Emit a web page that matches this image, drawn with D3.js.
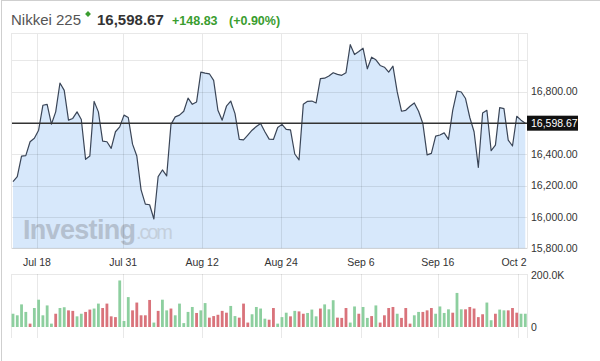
<!DOCTYPE html>
<html>
<head>
<meta charset="utf-8">
<script src="https://cdn.jsdelivr.net/npm/d3@7"></script>
<style>
  body { margin: 0; background: #fff; }
  svg { display: block; font-family: Arial, "Liberation Sans", sans-serif; }
</style>
</head>
<body>
<div class="chart"></div>
<script>
// closing prices, one per bar
const closes = [16226,16258,16389,16392,16480,16502,16554,16713,16719,16592,
  16671,16855,16808,16618,16629,16671,16622,16368,16389,16738,
  16671,16484,16480,16438,16544,16575,16650,16635,16465,16389,
  16173,16082,16078,15987,16258,16300,16262,16591,16639,16650,
  16675,16759,16719,16734,16925,16918,16914,16872,16681,16618,
  16707,16740,16660,16495,16492,16523,16554,16577,16597,16544,
  16497,16495,16571,16591,16559,16556,16402,16364,16719,16738,
  16740,16728,16883,16886,16900,16921,16910,16904,16921,17100,
  17037,17056,17077,16946,17020,17003,16967,16956,16925,16963,
  16798,16675,16681,16707,16728,16675,16597,16396,16406,16516,
  16523,16537,16495,16681,16804,16798,16756,16635,16544,16317,
  16664,16681,16423,16459,16698,16692,16491,16453,16643,16618,
  16598.67];

// volume in thousands
const volumes = [51,45,87,58,13,73,105,45,83,13,51,73,76,64,62,41,51,58,67,71,
  90,73,90,41,38,179,23,115,64,94,45,45,104,17,62,105,64,71,45,90,
  15,58,77,54,64,92,36,42,47,62,55,81,42,36,90,17,49,77,71,32,
  28,73,13,38,55,41,62,60,51,54,67,41,71,87,68,103,36,35,73,17,
  79,51,77,35,42,83,17,45,73,77,51,35,73,13,45,58,58,64,73,51,
  79,54,68,55,131,68,68,77,71,38,49,94,26,51,67,64,64,73,55,51,51];

// 1 = up bar (green), 0 = down bar (red)
const volUp = [1,1,1,1,0,1,1,1,1,1, 0,1,1,0,0,1,1,0,0,1, 1,0,0,0,0,1,1,1,0,0,
  0,0,0,1,0,1,1,0,1,1, 1,1,1,0,1,1,0,0,0,0, 0,1,1,0,0,0,1,1,1,1,
  0,0,1,1,1,0,1,0,
  0,1,1,1,0,1,1,1,0,0, 0,1,1,0,1,1,0,1,0,0, 0,0,1,0,0,0,1,1,0,0,
  0,1,1,1,1,0,1,1,0,0, 0,0,0,1,1,0,1,1,0,0, 0,1,1];

const dateLabels = ["Jul 18","Jul 31","Aug 12","Aug 24","Sep 6","Sep 16","Oct 2"];
const datePos = [5.6, 25.8, 44.3, 62.8, 81.5, 99.5, 118.3];
const priceTicks = [15800,16000,16200,16400,16600,16800];
const gridTicks = [15800,16000,16200,16400,16600,16800,17000];
const volTicks = [0, 200];

const lastPrice = 16598.67, change = 148.83, changePct = 0.90;

let width = 600, height = 361;
let plotL = 12, plotR = 527, plotT = 34, plotB = 248.3;
let volT = 274, volB = 338;

let svg = d3.select(".chart")
  .append("svg")
  .attr("width", width)
  .attr("height", height);

let x = d3.scaleLinear().domain([0, closes.length - 1]).range([13, 525.3]);
let y = d3.scaleLinear().domain([15800, 17168]).range([plotB, plotT]);
let yv = d3.scaleLinear().domain([0, 200]).range([327, 275]);
let fmt = d3.format(",.2f");

// outer frame
svg.append("rect")
  .attr("x", 1.5).attr("y", 0.5)
  .attr("width", 700).attr("height", 500)
  .attr("fill", "none").attr("stroke", "#cfcfcf");

// title
let title = svg.append("g");
title.append("text").attr("x", 11).attr("y", 25)
  .attr("font-size", 15).attr("fill", "#555")
  .text("Nikkei 225");
title.append("path")
  .attr("transform", "translate(88,14)")
  .attr("d", d3.symbol(d3.symbolDiamond2, 22)())
  .attr("fill", "#3a9d2f");
title.append("text").attr("x", 97).attr("y", 25)
  .attr("font-size", 15).attr("font-weight", "bold").attr("fill", "#333")
  .text(fmt(lastPrice));
title.append("text").attr("x", 172).attr("y", 24.5)
  .attr("font-size", 12.5).attr("font-weight", "bold").attr("fill", "#3a9d2f")
  .text("+" + fmt(change));
title.append("text").attr("x", 229).attr("y", 24.5)
  .attr("font-size", 12.5).attr("font-weight", "bold").attr("fill", "#3a9d2f")
  .text("(+" + changePct.toFixed(2) + "%)");

// price area
svg.append("path")
  .datum(closes)
  .attr("fill", "#d7e8fb")
  .attr("d", d3.area()
    .x(function(d, i) { return x(i); })
    .y0(plotB)
    .y1(function(d) { return y(d); }));

// watermark
svg.append("text").attr("x", 23).attr("y", 239)
  .attr("font-size", 27).attr("font-weight", "bold")
  .attr("fill", "#b4c0cf").attr("textLength", 113)
  .text("Investing");
svg.append("text").attr("x", 136).attr("y", 239)
  .attr("font-size", 20).attr("fill", "#c4cfdc").attr("textLength", 37)
  .text(".com");

// grid
let grid = svg.append("g")
  .attr("stroke", "rgba(0,0,0,0.09)")
  .attr("fill", "none");

grid.selectAll(".hg")
  .data(gridTicks)
  .enter().append("line")
  .attr("x1", plotL).attr("x2", plotR)
  .attr("y1", function(d) { return Math.round(y(d)) + 0.5; })
  .attr("y2", function(d) { return Math.round(y(d)) + 0.5; });

grid.selectAll(".vg")
  .data(datePos)
  .enter().append("line")
  .attr("x1", function(d) { return Math.round(x(d)) + 0.5; })
  .attr("x2", function(d) { return Math.round(x(d)) + 0.5; })
  .attr("y1", plotT).attr("y2", plotB);

grid.selectAll(".vgv")
  .data(datePos)
  .enter().append("line")
  .attr("x1", function(d) { return Math.round(x(d)) + 0.5; })
  .attr("x2", function(d) { return Math.round(x(d)) + 0.5; })
  .attr("y1", volT).attr("y2", volB);

grid.append("rect")
  .attr("x", plotL - 0.5).attr("y", plotT - 0.5)
  .attr("width", plotR - plotL + 1).attr("height", plotB - plotT + 0.5);

grid.append("line").attr("x1", plotL).attr("x2", plotR)
  .attr("y1", volT + 0.5).attr("y2", volT + 0.5);
grid.append("line").attr("x1", plotL - 0.5).attr("x2", plotL - 0.5)
  .attr("y1", volT).attr("y2", volB);
grid.append("line").attr("x1", plotR + 0.5).attr("x2", plotR + 0.5)
  .attr("y1", volT).attr("y2", volB);

// price line
svg.append("path")
  .datum(closes)
  .attr("fill", "none")
  .attr("stroke", "#3a4557")
  .attr("stroke-width", 1.2)
  .attr("stroke-linejoin", "round")
  .attr("d", d3.line()
    .x(function(d, i) { return x(i); })
    .y(function(d) { return y(d); }));

// last price marker line
svg.append("line")
  .attr("x1", plotL).attr("x2", plotR)
  .attr("y1", y(lastPrice)).attr("y2", y(lastPrice))
  .attr("stroke", "#333").attr("stroke-width", 1.5);

// y axis labels
svg.selectAll(".ylab")
  .data(priceTicks)
  .enter().append("text")
  .attr("x", 531)
  .attr("y", function(d) { return y(d); })
  .attr("dy", "0.35em")
  .attr("font-size", 10.5)
  .attr("fill", "#333")
  .text(function(d) { return fmt(d); });

// last price box
svg.append("rect")
  .attr("x", 527).attr("y", y(lastPrice) - 7.5)
  .attr("width", 51).attr("height", 15)
  .attr("fill", "#111");
svg.append("text")
  .attr("x", 531).attr("y", y(lastPrice)).attr("dy", "0.35em")
  .attr("font-size", 10.5).attr("fill", "#fff")
  .text(fmt(lastPrice));

// date labels
svg.selectAll(".xlab")
  .data(dateLabels)
  .enter().append("text")
  .attr("x", function(d, i) { return Math.min(x(datePos[i]), 514); })
  .attr("y", 266)
  .attr("text-anchor", "middle")
  .attr("font-size", 10.5)
  .attr("fill", "#333")
  .text(function(d) { return d; });

// volume bars
svg.selectAll(".vol")
  .data(volumes)
  .enter().append("rect")
  .attr("x", function(d, i) { return x(i) - 1.4; })
  .attr("width", 2.8)
  .attr("y", function(d) { return yv(d); })
  .attr("height", function(d) { return yv(0) - yv(d); })
  .attr("fill", function(d, i) { return volUp[i] ? "#8dcf9f" : "#d9737b"; });

svg.selectAll(".vlab")
  .data(volTicks)
  .enter().append("text")
  .attr("x", 531)
  .attr("y", function(d) { return yv(d); })
  .attr("dy", "0.35em")
  .attr("font-size", 10.5)
  .attr("fill", "#333")
  .text(function(d) { return d === 0 ? "0" : d.toFixed(1) + "K"; });
</script>
</body>
</html>
